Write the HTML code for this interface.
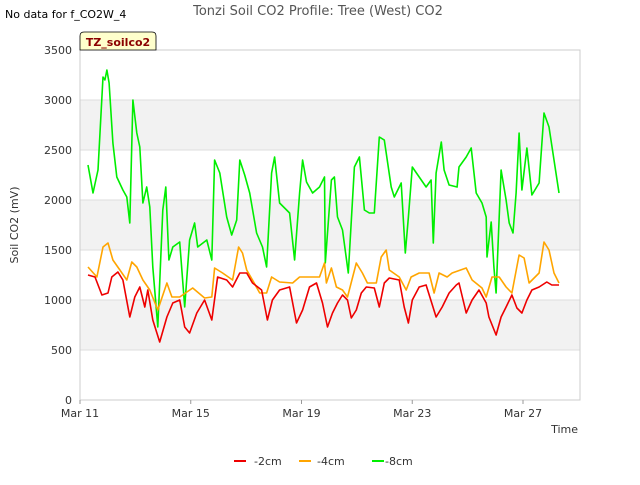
<!DOCTYPE html>
<html><head><meta charset="utf-8"><style>
body{margin:0;background:#fff;font-family:"Liberation Sans","DejaVu Sans",sans-serif}
svg text{font-family:"DejaVu Sans","Liberation Sans",sans-serif}
</style></head><body>
<svg id="chart" width="640" height="480" xmlns="http://www.w3.org/2000/svg">
<text x="5" y="18" font-size="11" fill="#000">No data for f_CO2W_4</text>
<text x="318" y="15" font-size="13" fill="#555" text-anchor="middle">Tonzi Soil CO2 Profile: Tree (West) CO2</text>
<g id="plot"></g>
<g>
<path d="M80,50 L80,36 Q80,32 84,32 L152,32 Q156,32 156,36 L156,50 Z" fill="#ffffcc" stroke="#000" stroke-width="0.8"/>
<text x="118" y="46" font-size="11" font-weight="bold" fill="#8b0000" text-anchor="middle">TZ_soilco2</text>
</g>
<text transform="translate(18,225) rotate(-90)" font-size="11" fill="#333" text-anchor="middle">Soil CO2 (mV)</text>
<text x="578" y="433" font-size="11" fill="#333" text-anchor="end">Time</text>
<g>
<line x1="234" y1="461" x2="246" y2="461" stroke="#ee0000" stroke-width="2"/><text x="254" y="465" font-size="11" fill="#333">-2cm</text>
<line x1="299" y1="461" x2="311" y2="461" stroke="#ffa500" stroke-width="2"/><text x="317" y="465" font-size="11" fill="#333">-4cm</text>
<line x1="372" y1="461" x2="384" y2="461" stroke="#00ee00" stroke-width="2"/><text x="385" y="465" font-size="11" fill="#333">-8cm</text>
</g>
</svg>
<script>
const yTicks=[0,500,1000,1500,2000,2500,3000,3500];
const xTickDays=[0,4,8,12,16];
const xTickLabels=["Mar 11","Mar 15","Mar 19","Mar 23","Mar 27"];
const tGreen=[.29,.47,.65,.83,.90,.97,1.05,1.19,1.33,1.55,1.69,1.80,1.91,2.05,2.16,2.27,2.41,2.52,2.63,2.81,2.99,3.10,3.21,3.35,3.60,3.78,3.96,4.14,4.25,4.58,4.76,4.86,5.05,5.30,5.48,5.66,5.77,5.95,6.13,6.38,6.59,6.74,6.92,7.03,7.21,7.57,7.75,7.93,8.04,8.18,8.40,8.65,8.83,8.86,9.08,9.19,9.30,9.48,9.69,9.91,10.09,10.27,10.45,10.63,10.81,10.99,11.24,11.35,11.60,11.75,11.86,12.00,12.25,12.50,12.68,12.76,12.86,13.05,13.15,13.33,13.62,13.69,13.95,14.13,14.31,14.52,14.67,14.70,14.85,14.95,15.03,15.21,15.39,15.50,15.64,15.75,15.86,15.96,16.14,16.32,16.58,16.76,16.94,17.12,17.30];
const vGreen=[2350,2070,2300,3230,3200,3300,3170,2570,2230,2100,2030,1770,3000,2670,2530,1970,2130,1930,1330,730,1900,2130,1400,1530,1580,930,1600,1770,1530,1600,1400,2400,2270,1830,1650,1800,2400,2250,2070,1670,1530,1330,2270,2430,1970,1870,1400,2070,2400,2180,2070,2130,2230,1370,2200,2230,1830,1700,1270,2330,2430,1900,1870,1870,2630,2600,2130,2030,2170,1470,1830,2330,2230,2130,2200,1570,2270,2580,2300,2150,2130,2330,2430,2520,2070,1970,1830,1430,1780,1330,1070,2300,2000,1770,1670,2070,2670,2100,2520,2050,2170,2870,2730,2400,2070];
const tOrange=[.29,.61,.83,1.01,1.19,1.44,1.69,1.87,2.05,2.27,2.52,2.81,3.14,3.32,3.60,4.07,4.50,4.76,4.86,5.15,5.51,5.73,5.87,6.02,6.23,6.49,6.74,6.92,7.21,7.68,7.93,8.29,8.65,8.83,8.90,9.08,9.26,9.48,9.66,9.98,10.20,10.38,10.70,10.88,11.06,11.17,11.53,11.78,11.96,12.25,12.61,12.79,12.97,13.26,13.44,13.95,14.16,14.52,14.67,14.88,15.14,15.39,15.60,15.86,16.04,16.22,16.58,16.76,16.94,17.12,17.30];
const vOrange=[1330,1230,1530,1570,1400,1300,1200,1380,1330,1200,1100,900,1170,1030,1030,1120,1020,1030,1320,1270,1200,1530,1470,1300,1200,1070,1070,1230,1180,1170,1230,1230,1230,1370,1170,1320,1130,1100,1030,1370,1270,1170,1170,1430,1500,1300,1230,1100,1230,1270,1270,1070,1270,1230,1270,1320,1200,1120,1030,1230,1230,1130,1070,1450,1420,1170,1270,1580,1500,1270,1170];
const tRed=[.29,.54,.79,1.01,1.15,1.37,1.55,1.80,1.98,2.16,2.34,2.45,2.63,2.88,3.14,3.35,3.60,3.78,3.96,4.22,4.50,4.76,4.97,5.30,5.51,5.77,6.02,6.23,6.56,6.77,6.95,7.21,7.57,7.82,8.04,8.29,8.54,8.76,8.94,9.12,9.30,9.48,9.66,9.80,9.98,10.16,10.34,10.63,10.81,10.99,11.17,11.53,11.71,11.86,12.00,12.25,12.50,12.86,13.08,13.33,13.59,13.69,13.95,14.16,14.41,14.67,14.77,15.03,15.21,15.39,15.60,15.78,15.96,16.14,16.32,16.58,16.86,17.04,17.30];
const vRed=[1250,1230,1050,1070,1230,1280,1200,830,1030,1130,930,1100,800,580,830,970,1000,730,670,870,1000,800,1230,1200,1130,1270,1270,1170,1100,800,1000,1100,1130,770,900,1130,1170,970,730,870,970,1050,1000,820,900,1070,1130,1120,930,1170,1220,1200,930,770,1000,1130,1150,830,930,1070,1150,1170,870,1000,1100,970,830,650,830,930,1050,920,870,1000,1100,1130,1180,1150,1150];

const L=80,R=580,T=50,B=400;
const xS=d=>L+d*(523-80)/16;
const yS=v=>B-(v/3500)*(B-T);
const NS="http://www.w3.org/2000/svg";
const plot=document.getElementById('plot');
function mk(tag,attrs){const e=document.createElementNS(NS,tag);for(const k in attrs)e.setAttribute(k,attrs[k]);plot.appendChild(e);return e;}
for(let i=0;i<yTicks.length-1;i++){
  if(i%2===1){
    const band=mk('rect',{x:L,y:yS(yTicks[i+1]),width:R-L,height:yS(yTicks[i])-yS(yTicks[i+1]),fill:'#f2f2f2'});
    
    
  }
}
yTicks.forEach(v=>{
  const g=mk('line',{x1:L,x2:R,y1:yS(v),y2:yS(v),stroke:'#dddddd','stroke-width':1});
  
  
  const t=mk('text',{x:L-8,y:yS(v)+4,'font-size':11,fill:'#333','text-anchor':'end'});
  t.textContent=v;
  
  
});
const frame=mk('rect',{x:L,y:T,width:R-L,height:B-T,fill:'none',stroke:'#cccccc'});


xTickDays.forEach((d,i)=>{
  const tk=mk('line',{x1:xS(d),x2:xS(d),y1:B,y2:B+4,stroke:'#999'});
  
  
  const t=mk('text',{x:xS(d),y:B+17,'font-size':11,fill:'#333','text-anchor':'middle'});
  t.textContent=xTickLabels[i];
  
  
});
function series(ts,vs,color,name){
  const pts=ts.map((t,i)=>xS(t).toFixed(1)+','+yS(vs[i]).toFixed(1)).join(' ');
  const p=mk('polyline',{points:pts,fill:'none',stroke:color,'stroke-width':1.6,'stroke-linejoin':'round'});
  
  
}
series(tGreen,vGreen,'#00ee00','series-8cm');
series(tOrange,vOrange,'#ffa500','series-4cm');
series(tRed,vRed,'#ee0000','series-2cm');
</script>
</body></html>
